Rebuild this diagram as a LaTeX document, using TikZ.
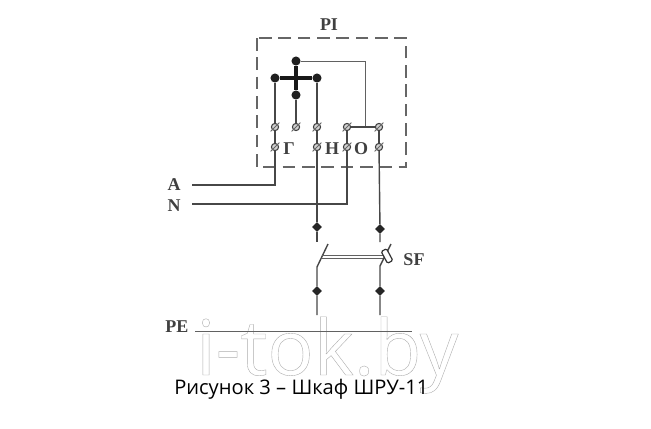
\documentclass[tikz,border=0pt]{standalone}
\usepackage{fontspec}
\usetikzlibrary{shapes.geometric}
\setmainfont{Liberation Serif}
\newfontfamily\capfont{Open Sans}
\newcommand{\outlinetext}[1]{\special{pdf:code q 1 Tr 0.3 w 0.68 G}#1\special{pdf:code Q}}
\begin{document}
\begin{tikzpicture}[x=0.75pt,y=-0.75pt,
  wire/.style={draw=black!72,line width=1.05pt},
  thin wire/.style={draw=black!62,line width=0.75pt},
  bar/.style={draw=black!90,line width=2.4pt},
  frame box/.style={draw=black!60,line width=1pt,dash pattern=on 9.5pt off 5pt},
  term/.style={circle,draw=black!75,fill=black!18,line width=0.8pt,inner sep=0pt,minimum size=5.4pt},
  tick/.style={draw=black!60,line width=0.6pt},
  bigdot/.style={circle,fill=black!88,inner sep=0pt,minimum size=6.8pt},
  meddot/.style={diamond,aspect=1,fill=black!85,inner sep=0pt,minimum size=7.4pt},
  lab/.style={font=\bfseries\fontsize{13.5pt}{14pt}\selectfont,text=black!75,inner sep=0pt}]
\useasboundingbox (0,0) rectangle (651,429);
\fill[white] (0,0) rectangle (651,429);
% watermark
\node[anchor=base west,inner sep=0pt,font=\capfont\fontsize{57.5pt}{60pt}\selectfont] (mark) at (196,375) {\outlinetext{i-tok.by}};
% frame
\draw[frame box] (257,38) rectangle (406,167);
\node[lab] (pi) at (329,25) {PI};
% terminals
\node[term] (t1) at (275,127) {};
\node[term] (t2) at (296,127) {};
\node[term] (t3) at (317,127) {};
\node[term] (t4) at (347,127) {};
\node[term] (t5) at (379,127) {};
\node[term] (b1) at (275,147) {};
\node[term] (b3) at (317,147) {};
\node[term] (b4) at (347,147) {};
\node[term] (b5) at (379,147) {};
\foreach \t in {t1,t2,t3,t4,t5,b1,b3,b4,b5}{
  \draw[tick] ([shift={(-1.5,1.5)}]\t.south west) -- ([shift={(1.5,-1.5)}]\t.north east);
}
\node[lab] (g) at (289,149) {Г};
\node[lab] (h) at (332,149) {Н};
\node[lab] (o) at (361,149) {О};
% cross
\node[bigdot] (dl) at (275,78) {};
\node[bigdot] (dr) at (317,78) {};
\node[bigdot] (dt) at (296,61) {};
\node[bigdot] (db) at (296,95) {};
\draw[bar] (dl) -- (dr);
\draw[bar] (dt) -- (db);
\draw[wire] (dl) -- (t1);
\draw[wire] (dr) -- (t3);
\draw[wire] (db) -- (t2);
\coordinate (c1) at (365,61);
\coordinate (c2) at (365,127);
\draw[thin wire] (dt) -- (c1) -- (c2);
\draw[wire] (t4) -- (t5);
\draw[wire] (t1) -- (b1);
\draw[wire] (t3) -- (b3);
\draw[wire] (t4) -- (b4);
\draw[wire] (t5) -- (b5);
% feeds
\node[lab] (a) at (174,185) {A};
\node[lab] (n) at (174,206) {N};
\coordinate (as) at (192,185);
\coordinate (ac) at (275,185);
\coordinate (ns) at (192,204);
\coordinate (nc) at (347,204);
\draw[wire] (as) -- (ac) -- (b1);
\draw[wire] (ns) -- (nc) -- (b4);
% breaker
\node[meddot] (s1) at (317,227) {};
\node[meddot] (s2) at (380,229) {};
\node[meddot] (s3) at (317,291) {};
\node[meddot] (s4) at (380,291) {};
\coordinate (u1) at (317,242);
\coordinate (u2) at (380,242);
\coordinate (h1) at (317,267);
\coordinate (h2) at (380,266);
\coordinate (e1) at (328,244);
\coordinate (e2) at (391,244);
\coordinate (l1) at (317,315);
\coordinate (l2) at (380,315);
\draw[wire] (b3) -- (s1) -- (u1);
\draw[wire] (b5) -- (s2) -- (u2);
\draw[wire] (l1) -- (s3) -- (h1) -- (e1);
\draw[wire] (l2) -- (s4) -- (h2) -- (e2);
\coordinate (m1) at (322,255);
\coordinate (m2) at (383,255);
\coordinate (m3) at (322,258);
\coordinate (m4) at (383,258);
\draw[thin wire] (m1) -- (m2);
\draw[thin wire] (m3) -- (m4);
\node[draw=black!80,fill=white,line width=0.9pt,rounded corners=1pt,rotate=-62,minimum width=10pt,minimum height=4.5pt,inner sep=0pt] (latch) at (387,256) {};
\node[lab] (sf) at (414,260) {SF};
% PE
\node[lab] (pe) at (177,327) {PE};
\coordinate (p1) at (195,331);
\coordinate (p2) at (412,331);
\draw[thin wire] (p1) -- (p2);
% caption
\node[anchor=base west,inner sep=0pt,font=\capfont\fontsize{15.1pt}{16pt}\selectfont,text=black] (cap) at (174,394) {Рисунок 3 – Шкаф ШРУ-11};
\end{tikzpicture}
\end{document}
